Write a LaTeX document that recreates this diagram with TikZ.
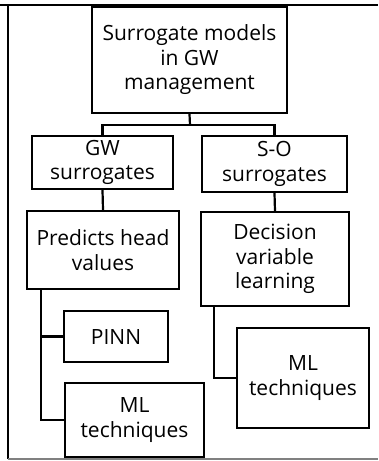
\documentclass[tikz,border=0pt]{standalone}
\usepackage{fontspec}
\setmainfont{Open Sans}
\begin{document}
\begin{tikzpicture}[x=1pt,y=-1pt,
  box/.style={draw,line width=2.2pt,align=center,inner sep=0pt,
    font=\fontsize{21}{24.5}\selectfont},
  wire/.style={line width=2.2pt}]
\useasboundingbox (0,0) rectangle (378,461);
\draw[line width=2.5pt](0,5)--(378,5);
\draw[line width=2pt](8,5)--(8,459);
\draw[line width=1.5pt,color=gray](8,459)--(378,459);
\node[box,minimum width=195,minimum height=106] (top) at (189.5,60) {Surrogate models\\in GW\\management};
\node[box,minimum width=141,minimum height=53] (gw) at (102.5,162.5) {GW\\surrogates};
\node[box,minimum width=145,minimum height=56] (so) at (274.5,164) {S-O\\surrogates};
\node[box,minimum width=152,minimum height=78] (pred) at (103,250) {Predicts head\\values};
\node[box,minimum width=148,minimum height=94] (dec) at (275,259) {Decision\\variable\\learning};
\node[box,minimum width=104,minimum height=51] (pinn) at (116,336.5) {PINN};
\node[box,minimum width=139,minimum height=74] (mll) at (134.5,420) {ML\\techniques};
\node[box,minimum width=132,minimum height=100] (mlr) at (303,378) {ML\\techniques};
\coordinate (split) at (190,125);
\draw[wire](top.south)--(split);
\draw[wire](split)-|(gw.north);
\draw[wire](split)-|(so.north);
\draw[wire](gw.south)--(pred.north);
\draw[wire](so.south)--(dec.north);
\draw[wire](pred.south west)++(15,0)|-(mll.west);
\draw[wire](pred.south west)++(15,0)|-(pinn.west);
\draw[wire](dec.south west)++(14,0)|-(mlr.west);
\end{tikzpicture}
\end{document}
